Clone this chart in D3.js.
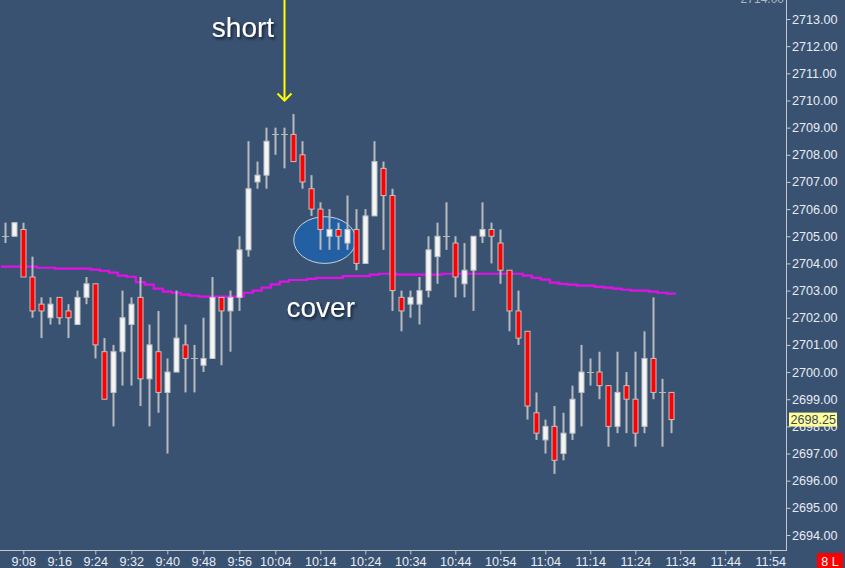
<!DOCTYPE html>
<html>
<head>
<meta charset="utf-8">
<script src="https://cdn.jsdelivr.net/npm/d3@7/dist/d3.min.js"></script>
<style>
  html, body { margin: 0; padding: 0; background: #3a5272; overflow: hidden; }
  svg { display: block; }
</style>
</head>
<body>
<svg id="chart" width="845" height="568"></svg>
<script>
// ---- data ----
const times = ["9:04","9:06","9:08","9:10","9:12","9:14","9:16","9:18","9:20","9:22",
  "9:24","9:26","9:28","9:30","9:32","9:34","9:36","9:38","9:40","9:42",
  "9:44","9:46","9:48","9:50","9:52","9:54","9:56","9:58","10:00","10:02",
  "10:04","10:06","10:08","10:10","10:12","10:14","10:16","10:18","10:20","10:22",
  "10:24","10:26","10:28","10:30","10:32","10:34","10:36","10:38","10:40","10:42",
  "10:44","10:46","10:48","10:50","10:52","10:54","10:56","10:58","11:00","11:02",
  "11:04","11:06","11:08","11:10","11:12","11:14","11:16","11:18","11:20","11:22",
  "11:24","11:26","11:28","11:30","11:32"];
const open = [2705,2705,2705.25,2703.5,2702.5,2702,2702.75,2702.25,2701.75,2702.75,
  2703.25,2700.75,2699.25,2700.75,2701.75,2702.75,2699.75,2700.75,2699.25,2700,
  2701,2700.5,2700.25,2700.5,2702.75,2702.25,2702.75,2704.5,2707,2707.25,
  2708.75,2708.75,2708.75,2708,2706.75,2706,2705,2705.25,2704.75,2705.25,
  2704,2705.75,2707.5,2706.5,2702.75,2702.5,2702.5,2703,2704.25,2705,
  2704.75,2703.25,2703.75,2705,2705.25,2704.75,2703.75,2702.25,2701.5,2698.5,
  2697.5,2698,2697,2697.75,2699.25,2700,2700,2699.5,2698,2699.5,
  2699,2698,2700.5,2699.25,2699.25];
const high = [2705.5,2705.5,2705.5,2704.25,2702.75,2702.75,2702.75,2702.5,2703,2703.5,
  2703.25,2701.25,2701,2703,2702.75,2703.5,2701.75,2702.25,2700.5,2703,
  2701.75,2701,2702,2703.5,2702.75,2703,2705,2708.5,2707.75,2709,
  2709,2709,2709.5,2708.5,2707.25,2706.25,2706,2705.5,2706.5,2706,
  2706,2708.5,2707.75,2706.75,2703,2703,2703.5,2705,2705.5,2706.25,
  2705,2704.75,2705,2706.25,2705.5,2705.25,2703.75,2703,2701.5,2699.25,
  2698.25,2698.75,2698.5,2699.5,2701,2700.5,2700.75,2699.5,2700.75,2700,
  2700.75,2701.5,2702.75,2699.75,2699.25];
const low = [2704.75,2705,2703.5,2702,2701.25,2701.75,2701.75,2701.25,2701.75,2702.5,
  2700.5,2699,2698,2699.5,2699.5,2698.75,2698,2698.5,2697,2700,
  2699.25,2699.25,2700,2700.5,2700.25,2700.75,2702.25,2704.25,2706.75,2706.75,
  2708,2707.5,2707.75,2706.75,2705.75,2704.5,2704.5,2704.5,2704.5,2703.75,
  2704,2705.75,2704.5,2702.25,2701.5,2702,2701.75,2702.75,2703.25,2704.5,
  2702.75,2702.75,2702.25,2704.75,2704,2703.25,2701.5,2701,2698.25,2697.5,
  2697,2696.25,2696.75,2697.5,2698,2699.5,2699,2697.25,2697.75,2697.75,
  2697.25,2697.75,2699,2697.25,2697.75];
const close = [2705,2705.5,2703.5,2702.25,2702.25,2702.5,2702,2702,2702.75,2703.25,
  2701,2699,2700.75,2702,2702.5,2699.75,2701,2699.25,2700,2701.25,
  2700.5,2700.5,2700.5,2702.75,2702.25,2702.75,2704.5,2706.75,2707.25,2708.5,
  2708.75,2708.75,2707.75,2707,2706,2705.25,2705.25,2705,2705.25,2704,
  2705.75,2707.75,2706.5,2703,2702.25,2702.75,2703,2704.5,2705,2705,
  2703.5,2703.75,2705,2705.25,2705,2703.75,2702.25,2701.25,2698.75,2697.75,
  2698,2696.75,2697.75,2699,2700,2700,2699.5,2698,2699.25,2699,
  2697.75,2700.5,2699.25,2699.25,2698.25];
const movingAvg = [2703.88,2703.88,2703.88,2703.88,2703.84,2703.84,2703.81,2703.81,2703.81,2703.81,
  2703.77,2703.73,2703.66,2703.55,2703.51,2703.31,2703.22,2703.07,2702.96,2702.92,
  2702.85,2702.81,2702.78,2702.78,2702.78,2702.78,2702.78,2702.92,2703.00,2703.11,
  2703.23,2703.33,2703.39,2703.39,2703.43,2703.47,2703.47,2703.47,2703.53,2703.53,
  2703.53,2703.59,2703.62,2703.62,2703.59,2703.59,2703.59,2703.59,2703.59,2703.62,
  2703.62,2703.62,2703.62,2703.62,2703.62,2703.62,2703.62,2703.62,2703.55,2703.47,
  2703.40,2703.29,2703.25,2703.22,2703.18,2703.18,2703.14,2703.11,2703.07,2703.03,
  2703.00,2703.00,2702.96,2702.92,2702.89];
const xTickLabels = ["9:08","9:16","9:24","9:32","9:40","9:48","9:56","10:04","10:14","10:24",
  "10:34","10:44","10:54","11:04","11:14","11:24","11:34","11:44","11:54"];
const yTickValues = [2694,2695,2696,2697,2698,2699,2700,2701,2702,2703,2704,
  2705,2706,2707,2708,2709,2710,2711,2712,2713];
const lastPrice = 2698.25;
const topLabel = "2714.00";
const badgeText = "8 L";

// ---- layout ----
const W = 845, H = 568;
const plotRight = 786, plotBottom = 550;
const toMin = s => { const [h, m] = s.split(":").map(Number); return h * 60 + m; };

const x = d3.scaleLinear().domain([540, 720]).range([-12.7, 797.3]);
const y = d3.scaleLinear().domain([2694, 2713]).range([535, 19]);

const svg = d3.select("#chart");
svg.append("rect").attr("width", W).attr("height", H).attr("fill", "#3a5272");

const defs = svg.append("defs");
const f = defs.append("filter").attr("id", "shadow").attr("x", "-20%").attr("y", "-20%").attr("width", "140%").attr("height", "160%");
f.append("feDropShadow").attr("dx", 1.5).attr("dy", 2).attr("stdDeviation", 1.5).attr("flood-color", "#0a1520").attr("flood-opacity", 0.9);
defs.append("clipPath").attr("id", "plotclip").append("rect")
  .attr("x", 0).attr("y", 0).attr("width", plotRight).attr("height", plotBottom);

const plot = svg.append("g").attr("clip-path", "url(#plotclip)");

// ellipse annotation (behind candles)
const ell = { t: "10:15", p: 2704.86, rMin: 6.9, rP: 0.86 };
plot.append("ellipse")
  .attr("cx", x(toMin(ell.t)))
  .attr("cy", y(ell.p))
  .attr("rx", x(toMin(ell.t) + ell.rMin) - x(toMin(ell.t)))
  .attr("ry", y(ell.p - ell.rP) - y(ell.p))
  .attr("fill", "#2360a3")
  .attr("stroke", "#c9d2dc")
  .attr("stroke-width", 1);

// moving average (stepped per bar)
const half = (x(toMin("9:06")) - x(toMin("9:04"))) / 2;
const maPts = [];
times.forEach((t, i) => {
  const cx = x(toMin(t));
  maPts.push([cx - half, y(movingAvg[i])]);
  maPts.push([cx + half, y(movingAvg[i])]);
});
plot.append("path")
  .attr("d", d3.line()(maPts))
  .attr("fill", "none")
  .attr("stroke", "#e310ea")
  .attr("stroke-width", 2.2);

// candles
const bars = times.map((t, i) => ({ t, o: open[i], h: high[i], l: low[i], c: close[i] }));
const wickColor = "#b6babe";
const g = plot.append("g");
const cg = g.selectAll("g.c").data(bars).join("g").attr("class", "c");
cg.append("line")
  .attr("x1", d => Math.round(x(toMin(d.t))) + 0.5)
  .attr("x2", d => Math.round(x(toMin(d.t))) + 0.5)
  .attr("y1", d => y(d.h))
  .attr("y2", d => y(d.l))
  .attr("stroke", wickColor)
  .attr("stroke-width", 2);
cg.filter(d => d.o !== d.c).append("rect")
  .attr("x", d => Math.round(x(toMin(d.t))) - 2)
  .attr("y", d => y(Math.max(d.o, d.c)))
  .attr("width", 5)
  .attr("height", d => y(Math.min(d.o, d.c)) - y(Math.max(d.o, d.c)))
  .attr("fill", d => d.c > d.o ? "#f4f4f4" : "#ff0000")
  .attr("stroke", "#bfc3c6")
  .attr("stroke-width", 1);
cg.filter(d => d.o === d.c).append("line")
  .attr("x1", d => Math.round(x(toMin(d.t))) - 3)
  .attr("x2", d => Math.round(x(toMin(d.t))) + 4)
  .attr("y1", d => Math.round(y(d.o)) + 0.5)
  .attr("y2", d => Math.round(y(d.o)) + 0.5)
  .attr("stroke", wickColor)
  .attr("stroke-width", 1);

// annotations: short + arrow, cover
const fontFam = "'Liberation Sans', Arial, sans-serif";
svg.append("text")
  .attr("x", x(toMin("9:49") + 0.9))
  .attr("y", y(2712.34))
  .attr("font-family", fontFam).attr("font-size", 28)
  .attr("fill", "#ffffff").attr("filter", "url(#shadow)")
  .text("short");
const ax = Math.round(x(toMin("10:06"))) + 0.5;
const tipY = y(2710);
svg.append("line").attr("x1", ax).attr("x2", ax).attr("y1", 0).attr("y2", tipY)
  .attr("stroke", "#ffff00").attr("stroke-width", 2);
svg.append("path")
  .attr("d", `M${ax - 7},${tipY - 7} L${ax},${tipY} L${ax + 7},${tipY - 7}`)
  .attr("fill", "none").attr("stroke", "#ffff00").attr("stroke-width", 2);
svg.append("text")
  .attr("x", x(toMin("10:06") + 0.5))
  .attr("y", y(2702.02))
  .attr("font-family", fontFam).attr("font-size", 28)
  .attr("fill", "#ffffff").attr("filter", "url(#shadow)")
  .text("cover");

// axes
const axisColor = "#c4c7ca";
const labelColor = "#e8ecf2";
svg.append("line").attr("x1", plotRight + 0.5).attr("x2", plotRight + 0.5).attr("y1", 0).attr("y2", plotBottom)
  .attr("stroke", axisColor).attr("stroke-width", 1);
svg.append("line").attr("x1", 0).attr("x2", plotRight + 1).attr("y1", plotBottom + 0.5).attr("y2", plotBottom + 0.5)
  .attr("stroke", axisColor).attr("stroke-width", 1);

const yAxis = d3.axisRight(y).tickValues(yTickValues).tickSize(4).tickPadding(1.5)
  .tickFormat(d => d3.format(".2f")(d));
const yg = svg.append("g").attr("transform", `translate(${plotRight + 0.5},0)`).call(yAxis);
yg.select(".domain").remove();
yg.selectAll(".tick line").attr("stroke", axisColor);
yg.selectAll(".tick text").attr("fill", labelColor).attr("font-family", fontFam).attr("font-size", 12.6);

const xTickVals = xTickLabels.map(toMin);
const xAxis = d3.axisBottom(x).tickValues(xTickVals).tickSize(4).tickPadding(3)
  .tickFormat((d, i) => xTickLabels[i]);
const xg = svg.append("g").attr("transform", `translate(0,${plotBottom + 0.5})`).call(xAxis);
xg.select(".domain").remove();
xg.selectAll(".tick line").attr("stroke", axisColor);
xg.selectAll(".tick text").attr("fill", labelColor).attr("font-family", fontFam).attr("font-size", 12.6);

// top partial label
svg.append("text")
  .attr("x", plotRight - 2).attr("y", y(2714) + 11.5)
  .attr("text-anchor", "end")
  .attr("font-family", fontFam).attr("font-size", 12)
  .attr("fill", "#aeb6c0")
  .text(topLabel);

// last price box
const ly = y(lastPrice);
svg.append("rect").attr("x", 789).attr("y", ly - 7).attr("width", 48).attr("height", 14)
  .attr("fill", "#ffff99");
svg.append("text").attr("x", 790.5).attr("y", ly + 4.5)
  .attr("font-family", fontFam).attr("font-size", 12.6).attr("fill", "#3a4660")
  .text(d3.format(".2f")(lastPrice));

// badge
svg.append("rect").attr("x", 817).attr("y", 553).attr("width", 26).attr("height", 15).attr("fill", "#ff0000");
svg.append("text").attr("x", 830).attr("y", 565.5).attr("text-anchor", "middle")
  .attr("font-family", fontFam).attr("font-size", 12.5).attr("fill", "#ffffff")
  .text(badgeText);
</script>
</body>
</html>
